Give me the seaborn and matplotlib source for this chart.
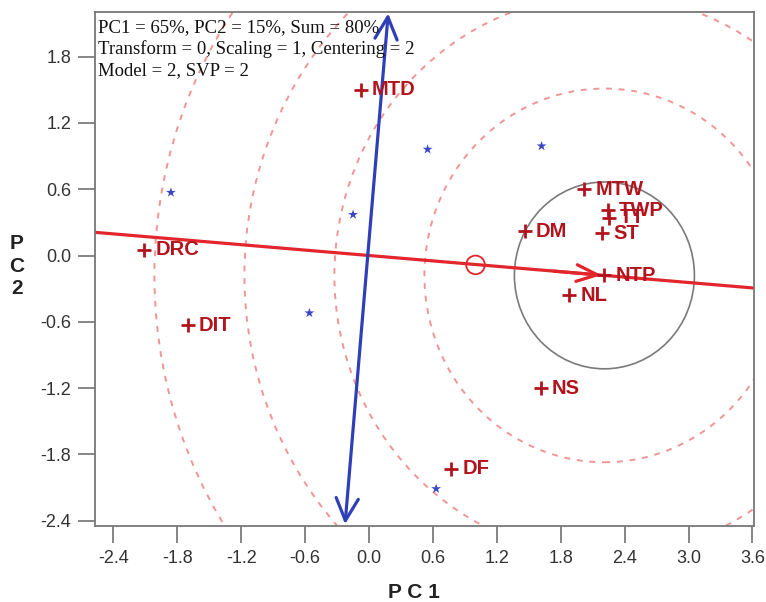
import matplotlib
matplotlib.use("Agg")
import matplotlib.pyplot as plt
import seaborn as sns
import pandas as pd
import numpy as np
from matplotlib.patches import Circle

# ---------------- data ----------------
genotypes = ["MTD", "MTW", "TWP", "TT", "ST", "DM", "NTP", "NL", "NS", "DF", "DRC", "DIT"]
geno_pc1 = [-0.08, 2.02, 2.24, 2.25, 2.19, 1.46, 2.21, 1.88, 1.61, 0.77, -2.11, -1.70]
geno_pc2 = [1.50, 0.60, 0.41, 0.34, 0.20, 0.22, -0.18, -0.36, -1.20, -1.93, 0.05, -0.63]

env_pc1 = [-1.86, -0.15, -0.56, 0.63, 0.55, 1.62]
env_pc2 = [0.57, 0.37, -0.52, -2.11, 0.96, 0.99]

ideal_point = (2.21, -0.18)          # arrow head on average axis, centre of circles
average_env = (1.00, -0.085)          # small open circle
ordinate_ends = [(-0.225, -2.43), (0.18, 2.19)]
circle_step = 0.845                   # radius unit of concentric circles
dashed_multiples = [2, 3, 4, 5]

xticks = [-2.4, -1.8, -1.2, -0.6, 0.0, 0.6, 1.2, 1.8, 2.4, 3.0, 3.6]
yticks = [-2.4, -1.8, -1.2, -0.6, 0.0, 0.6, 1.2, 1.8]
info_lines = ["PC1 = 65%, PC2 = 15%, Sum = 80%",
              "Transform = 0, Scaling = 1, Centering = 2",
              "Model = 2, SVP = 2"]

# ---------------- plot ----------------
sns.set_theme(style="white")
plt.rcParams["font.family"] = ["Liberation Sans", "DejaVu Sans"]

fig = plt.figure(figsize=(7.66, 6.02), dpi=100)
ax = fig.add_axes([0.124, 0.1262, 0.8597, 0.8534])
xlim = (-2.573, 3.61)
ylim = (-2.447, 2.20)
ax.set_xlim(*xlim)
ax.set_ylim(*ylim)

# concentric circles
for m in dashed_multiples:
    ax.add_patch(Circle(ideal_point, m * circle_step, fill=False,
                        edgecolor="#ee7a7a", lw=1.4, ls=(0, (3, 3.5)), alpha=0.8, zorder=1))
ax.add_patch(Circle(ideal_point, circle_step, fill=False, edgecolor="#7a7a7a", lw=1.2, zorder=1))

# average environment axis (red) through origin
slope = ideal_point[1] / ideal_point[0]
xs = np.array(xlim)
ax.plot(xs, slope * xs, color="#e3262b", lw=2.3, zorder=2)
ax.annotate("", xy=ideal_point, xytext=(ideal_point[0] - 0.5, slope * (ideal_point[0] - 0.5)),
            arrowprops=dict(arrowstyle="->,head_length=0.5,head_width=0.2", color="#e3262b",
                            lw=2.3, mutation_scale=30), zorder=3)

# ordinate (blue) double arrow
ax.annotate("", xy=ordinate_ends[1], xytext=ordinate_ends[0],
            arrowprops=dict(arrowstyle="<->,head_length=0.5,head_width=0.25", color="#2f3fb8",
                            lw=2.3, mutation_scale=32, shrinkA=0, shrinkB=0),
            zorder=3, annotation_clip=False)

# average environment marker
ax.scatter([average_env[0]], [average_env[1]], s=180, facecolor="none",
           edgecolor="#e3262b", lw=1.3, zorder=3)

# environments
env_df = pd.DataFrame({"PC1": env_pc1, "PC2": env_pc2})
sns.scatterplot(data=env_df, x="PC1", y="PC2", marker="*", s=55, color="#3a46c4",
                edgecolor="none", ax=ax, zorder=4)

# genotypes
geno_df = pd.DataFrame({"name": genotypes, "PC1": geno_pc1, "PC2": geno_pc2})
sns.scatterplot(data=geno_df, x="PC1", y="PC2", marker="+", s=90, color="#b3131c",
                linewidth=2.0, ax=ax, zorder=4)
for n, x, y in zip(genotypes, geno_pc1, geno_pc2):
    ax.annotate(n, (x, y), xytext=(8, 0), textcoords="offset points", ha="left",
                va="center", color="#b3131c", fontweight="bold", fontsize=14.5, zorder=5)

ax.text(0.004, 0.987, "\n".join(info_lines), transform=ax.transAxes, ha="left", va="top",
        family="Liberation Serif", fontsize=13.5, linespacing=1.3, color="#111111", zorder=6)

ax.set_xticks(xticks)
ax.set_xticklabels([f"{v:.1f}" for v in xticks])
ax.set_yticks(yticks)
ax.set_yticklabels([f"{v:.1f}" for v in yticks])
ax.tick_params(bottom=True, left=True, direction="out", length=12, width=1.1,
               color="#666666", labelsize=13, labelcolor="#333333", pad=5)
for sp in ax.spines.values():
    sp.set_color("#777777")
    sp.set_linewidth(1.3)
ax.set_xlabel("")
ax.set_ylabel("")

fig.text(414 / 766, 1 - 592 / 602, "P C 1", ha="center", va="center",
         fontweight="bold", fontsize=15, color="#222222")
fig.text(17 / 766, 1 - 266 / 602, "P\nC\n2", ha="center", va="center",
         fontweight="bold", fontsize=15, color="#222222", linespacing=1.25)

fig.savefig("out.png", dpi=100)
